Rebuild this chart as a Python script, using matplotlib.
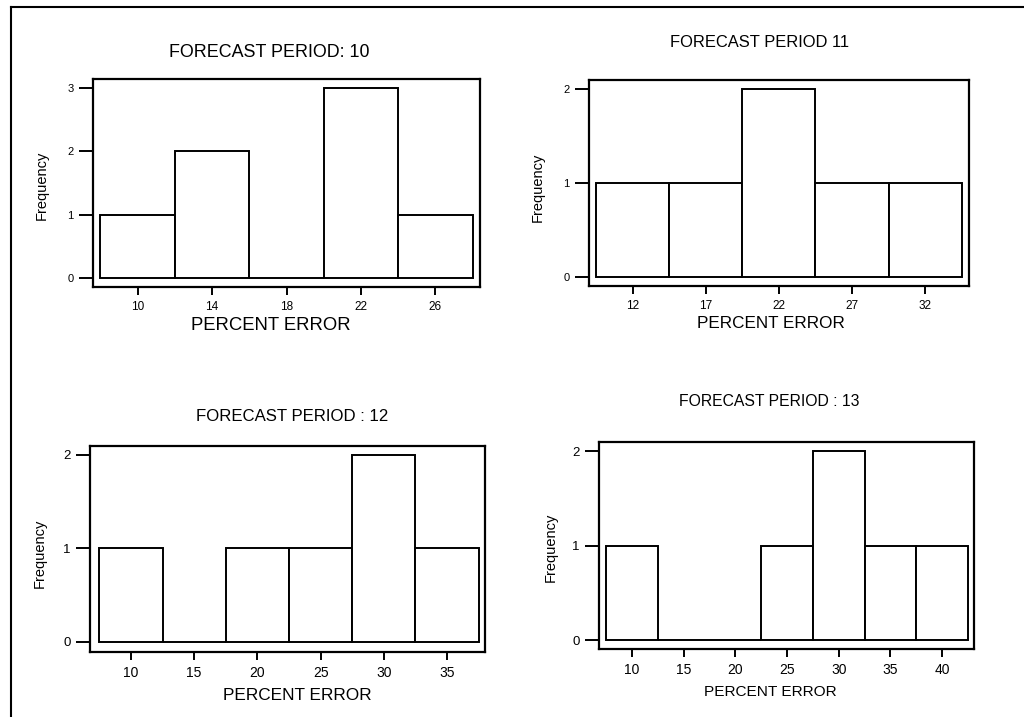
import matplotlib.pyplot as plt
from matplotlib.lines import Line2D

plt.rcParams['font.family'] = ['Liberation Sans', 'DejaVu Sans']

# Data: bin centres and counts for each forecast period
centers_10 = [10, 14, 18, 22, 26]
counts_10 = [1, 2, 0, 3, 1]

centers_11 = [12, 17, 22, 27, 32]
counts_11 = [1, 1, 2, 1, 1]

centers_12 = [10, 15, 20, 25, 30, 35]
counts_12 = [1, 0, 1, 1, 2, 1]

centers_13 = [10, 15, 20, 25, 30, 35, 40]
counts_13 = [1, 0, 0, 1, 2, 1, 1]

titles = ['FORECAST PERIOD: 10', 'FORECAST PERIOD 11',
          'FORECAST PERIOD : 12', 'FORECAST PERIOD : 13']


def hist_panel(ax, centers, counts, width, title, xlim, ylim,
               title_pos, xlab_pos, ylab_pos, tick_fs, title_fs, xlab_fs):
    ax.bar(centers, counts, width=width, color='white', edgecolor='black',
           linewidth=1.4)
    ax.set_xlim(xlim)
    ax.set_ylim(ylim)
    ax.set_xticks(centers)
    ax.set_yticks(range(0, max(counts) + 1))
    for s in ax.spines.values():
        s.set_linewidth(1.6)
    ax.tick_params(axis='y', length=10, width=1.4, pad=4, labelsize=tick_fs - 0.5)
    ax.tick_params(axis='x', length=6, width=1.4, pad=4, labelsize=tick_fs)
    ax.text(title_pos[0], title_pos[1], title, transform=ax.transAxes,
            ha='center', va='center', fontsize=title_fs)
    ax.text(xlab_pos[0], xlab_pos[1], 'PERCENT ERROR', transform=ax.transAxes,
            ha='center', va='center', fontsize=xlab_fs)
    ax.text(ylab_pos[0], ylab_pos[1], 'Frequency', transform=ax.transAxes,
            ha='center', va='center', rotation=90, fontsize=10.5)


fig = plt.figure(figsize=(10.24, 7.17), dpi=100)

ax1 = fig.add_axes([0.0908, 0.5997, 0.378, 0.290])
hist_panel(ax1, centers_10, counts_10, 4, titles[0], (7.6, 28.4), (-0.14, 3.14),
           (0.455, 1.13), (0.46, -0.183), (-0.132, 0.49), 8.5, 12.9, 13.3)

ax2 = fig.add_axes([0.5752, 0.6011, 0.371, 0.2873])
hist_panel(ax2, centers_11, counts_11, 5, titles[1], (9.0, 35.0), (-0.096, 2.096),
           (0.45, 1.18), (0.48, -0.18), (-0.134, 0.48), 8.5, 11.9, 12.3)

ax3 = fig.add_axes([0.0879, 0.0907, 0.3857, 0.2873])
hist_panel(ax3, centers_12, counts_12, 5, titles[2], (6.76, 38.0), (-0.107, 2.096),
           (0.511, 1.141), (0.524, -0.209), (-0.127, 0.48), 10, 12.1, 12.4)

ax4 = fig.add_axes([0.585, 0.0948, 0.3662, 0.2887])
hist_panel(ax4, centers_13, counts_13, 5, titles[3], (6.8, 43.1), (-0.095, 2.095),
           (0.453, 1.198), (0.456, -0.208), (-0.13, 0.49), 10, 11.3, 11.1)

# outer frame (left and top only)
fig.add_artist(Line2D([11 / 1024, 11 / 1024], [0, 1 - 7 / 717], color='black',
                      linewidth=1.5, transform=fig.transFigure))
fig.add_artist(Line2D([11 / 1024, 1], [1 - 7 / 717, 1 - 7 / 717], color='black',
                      linewidth=1.5, transform=fig.transFigure))

fig.savefig('out.png', dpi=100)
